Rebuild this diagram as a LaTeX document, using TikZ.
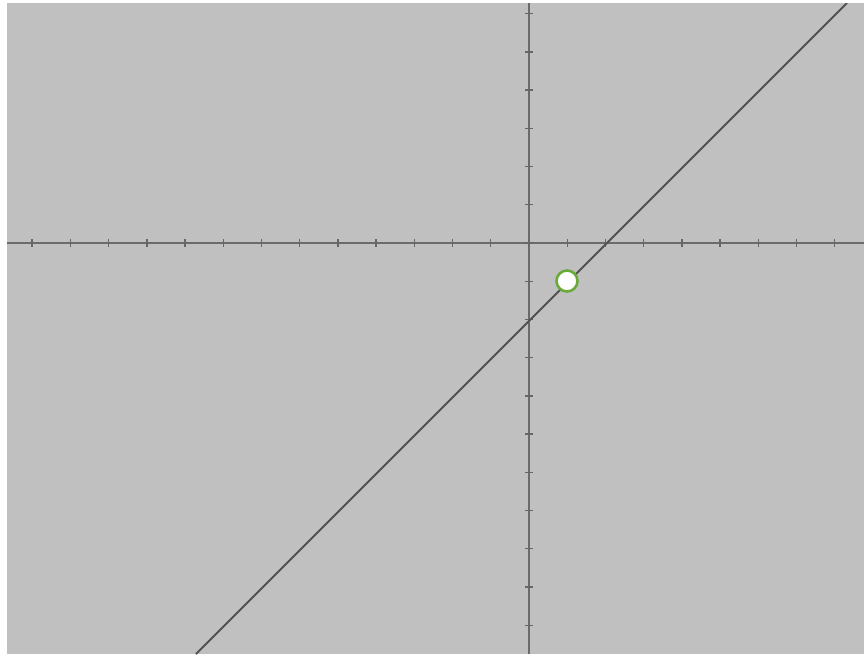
\documentclass[tikz,border=0pt]{standalone}
\definecolor{bggray}{RGB}{192,192,192}
\definecolor{holegreen}{RGB}{106,170,58}
\begin{document}
\begin{tikzpicture}[x=1pt,y=-1pt,
  axisline/.style={draw=black!58,line width=1.6pt},
  tickmark/.style={draw=black!60,line width=1.4pt},
  graphline/.style={draw=black!68,line width=2pt},
  holept/.style={circle,draw=holegreen,line width=2.6pt,fill=white,minimum size=21pt,inner sep=0pt}]
\useasboundingbox (0,0) rectangle (864,654);
\fill[white] (0,0) rectangle (864,654);
\fill[bggray] (7,3) rectangle (864,654);
\begin{scope}
\clip (7,3) rectangle (864,654);
% axes
\coordinate (xl) at (7,243);
\coordinate (xr) at (864,243);
\coordinate (yt) at (529,3);
\coordinate (yb) at (529,654);
\draw[axisline] (xl) -- (xr);
\draw[axisline] (yt) -- (yb);
\foreach \i in {-13,...,8}{
  \draw[tickmark] ({529+38.22*\i},239) -- ({529+38.22*\i},247);
}
\foreach \j in {-6,...,10}{
  \draw[tickmark] (525,{243+38.22*\j}) -- (533,{243+38.22*\j});
}
% graph line y = x - 2
\coordinate (lb) at (196,654);
\coordinate (lt) at (847,3);
\draw[graphline] (lb) -- (lt);
\end{scope}
\node[holept] (hole) at (567,281) {};
\end{tikzpicture}
\end{document}
